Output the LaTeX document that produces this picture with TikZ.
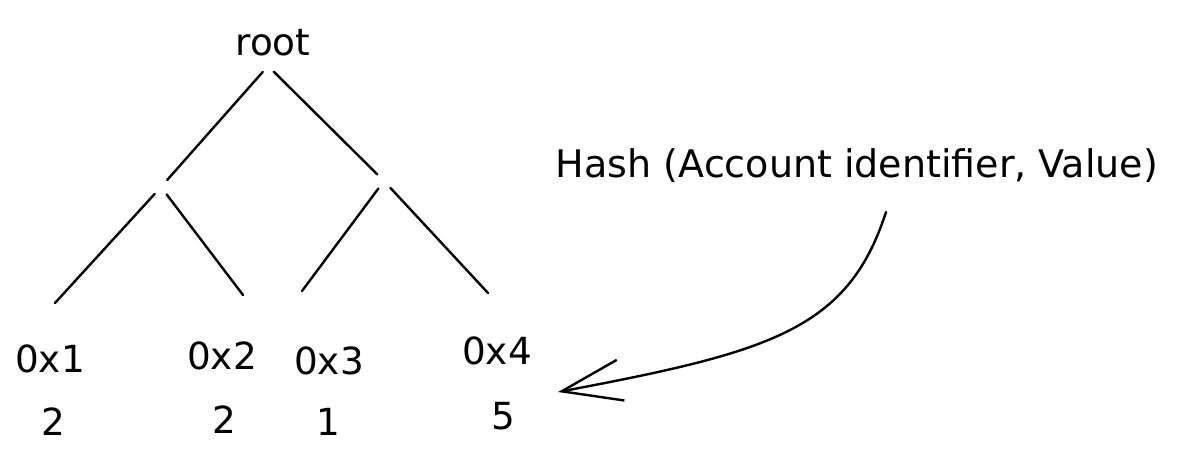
\documentclass[tikz,border=0pt]{standalone}
\usepackage{fontspec}
\setmainfont{DejaVu Sans}
\usetikzlibrary{arrows.meta}

\tikzset{
  sketch/.style={font=\fontsize{28}{34}\selectfont, inner sep=0pt},
  branch/.style={line width=1.8pt, line cap=round, shorten <=6pt, shorten >=7pt},
  twig/.style={line width=1.8pt, line cap=round, shorten <=7pt},
  hint/.style={line width=1.8pt, line cap=round,
    -{Straight Barb[length=45pt,width=31pt,line width=1.8pt]}},
}

\begin{document}
\begin{tikzpicture}[x=0.75pt,y=0.75pt,yscale=-1,xscale=1]
\useasboundingbox (0,0) rectangle (1188,470);

% Text Node
\node[sketch] (root) at (273,43) {root};
% Text Node
\node[sketch, font=\fontsize{28.5}{34}\selectfont] (hash) at (857,166) {Hash (Account identifier, Value)};

% Text Nodes: leaves
\node[sketch] (leaf1) at (50,359) {0x1};
\node[sketch] (leaf2) at (222,356) {0x2};
\node[sketch] (leaf3) at (329,361) {0x3};
\node[sketch] (leaf4) at (497,351) {0x4};
% Text Nodes: values
\node[sketch] (val1) at (53,422) {2};
\node[sketch] (val2) at (224,420) {2};
\node[sketch] (val3) at (328,422) {1};
\node[sketch] (val4) at (503,416) {5};

% forks of the tree
\coordinate (fork) at (268,66);
\coordinate (jl) at (161,187);
\coordinate (jr) at (384,181);
\coordinate (e1) at (55,303);
\coordinate (e2) at (243,295);
\coordinate (e3) at (302,291);
\coordinate (e4) at (488,293);

%Straight Lines
\draw[branch] (fork) -- (jl);
\draw[branch] (fork) -- (jr);
\draw[twig] (jl) -- (e1);
\draw[twig] (jl) -- (e2);
\draw[twig] (jr) -- (e3);
\draw[twig] (jr) -- (e4);

%Curve Lines
\coordinate (tail) at (886,212);
\coordinate (tip) at (558,392);
\draw[hint] (tail) .. controls (848,330) and (770,352) .. (tip);

\end{tikzpicture}
\end{document}
